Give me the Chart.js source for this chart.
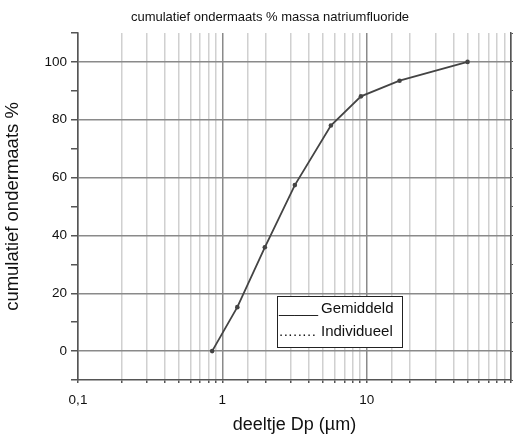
<!DOCTYPE html>
<html>
<head>
<meta charset="utf-8">
<script src="https://cdn.jsdelivr.net/npm/chart.js@4.4.1/dist/chart.umd.min.js"></script>
<style>
html,body{margin:0;padding:0;background:#fff;}
#wrap{width:515px;height:436px;}
</style>
</head>
<body>
<div id="wrap"><canvas id="c" width="515" height="436"></canvas></div>
<script>
// Data
const particleSizes = [0.85, 1.27, 1.97, 3.18, 5.65, 9.13, 16.9, 50];
const cumulativeUndersize = [0, 15.2, 35.9, 57.4, 78.0, 88.1, 93.5, 100];
const xTickLabels = {0.1: '0,1', 1: '1', 10: '10'};
const yTickLabels = [0, 20, 40, 60, 80, 100];
const chartTitle = 'cumulatief ondermaats % massa natriumfluoride';
const xAxisTitle = 'deeltje Dp (µm)';
const yAxisTitle = 'cumulatief ondermaats %';
const legendItems = [
  {mark: '_____', markSize: 14, spacing: '0px', label: 'Gemiddeld'},
  {mark: '........', markSize: 15, spacing: '0.5px', label: 'Individueel'}
];

const FONT = '"Liberation Sans", Arial, sans-serif';

const overlay = {
  id: 'overlay',
  afterDraw(chart) {
    const ctx = chart.ctx;
    ctx.save();
    // title
    ctx.fillStyle = '#111';
    ctx.font = '13px ' + FONT;
    ctx.textAlign = 'center';
    ctx.textBaseline = 'middle';
    ctx.fillText(chartTitle, 270, 17);
    // legend box
    const bx = 277, by = 296, bw = 125, bh = 51;
    ctx.fillStyle = '#fff';
    ctx.fillRect(bx, by, bw, bh);
    ctx.strokeStyle = '#222';
    ctx.lineWidth = 1;
    ctx.strokeRect(bx + 0.5, by + 0.5, bw, bh);
    ctx.fillStyle = '#111';
    ctx.textAlign = 'left';
    ctx.textBaseline = 'middle';
    legendItems.forEach((it, i) => {
      const y = by + 13 + i * 23;
      ctx.font = it.markSize + 'px ' + FONT;
      ctx.letterSpacing = it.spacing;
      ctx.fillText(it.mark, bx + 2, y);
      ctx.letterSpacing = '0px';
      ctx.font = '15px ' + FONT;
      ctx.fillText(it.label, bx + 44, y);
    });
    ctx.restore();
  }
};

new Chart(document.getElementById('c'), {
  type: 'line',
  data: {
    datasets: [{
      data: particleSizes.map((x, i) => ({x: x, y: cumulativeUndersize[i]})),
      borderColor: '#444',
      backgroundColor: '#444',
      borderWidth: 1.8,
      pointRadius: 2.3,
      pointBorderWidth: 0,
      tension: 0,
      fill: false
    }]
  },
  options: {
    responsive: false,
    devicePixelRatio: 1,
    animation: false,
    layout: {padding: {top: 33, right: 0, left: 0, bottom: 0}},
    plugins: {legend: {display: false}, title: {display: false}, tooltip: {enabled: false}},
    scales: {
      x: {
        type: 'logarithmic',
        min: 0.1,
        max: 100,
        afterFit(s) { s.height = 56; s.paddingLeft = 0; s.paddingRight = 0; },
        border: {color: '#555', width: 1.5},
        grid: {
          color: (c) => {
            const v = c.tick ? c.tick.value : 0;
            const l = Math.log10(v);
            if (Math.abs(l - Math.round(l)) < 1e-6) return '#8a8a8a';
            return '#d0d0d0';
          },
          lineWidth: 1.5,
          tickColor: '#555',
          tickLength: 3
        },
        ticks: {
          autoSkip: false,
          maxRotation: 0,
          padding: 9,
          color: '#111',
          font: {family: FONT, size: 13.5},
          callback: (v) => {
            for (const k in xTickLabels) { if (Math.abs(v - Number(k)) < 1e-9) return xTickLabels[k]; }
            return '';
          }
        },
        title: {display: true, text: xAxisTitle, color: '#111', font: {family: FONT, size: 18}, padding: {top: 0, bottom: 0}}
      },
      y: {
        min: -10,
        max: 110,
        afterFit(s) { s.width = 78; s.paddingTop = 0; s.paddingBottom = 0; },
        border: {color: '#555', width: 1.5},
        grid: {
          color: (c) => {
            const v = c.tick ? c.tick.value : 0;
            return yTickLabels.includes(v) ? '#8a8a8a' : 'rgba(0,0,0,0)';
          },
          lineWidth: 1.5,
          tickColor: '#555',
          tickLength: 7
        },
        ticks: {
          stepSize: 10,
          padding: 4,
          color: '#111',
          font: {family: FONT, size: 13.5},
          callback: (v) => yTickLabels.includes(v) ? String(v) : ''
        },
        title: {display: true, text: yAxisTitle, color: '#111', font: {family: FONT, size: 18.5}, padding: {top: 2, bottom: 0}}
      },
      y2: {
        position: 'right',
        min: -10,
        max: 110,
        afterFit(s) { s.width = 4; s.paddingTop = 0; s.paddingBottom = 0; },
        border: {color: '#555', width: 1.5},
        grid: {drawOnChartArea: false, tickColor: '#555', tickLength: 2},
        ticks: {stepSize: 10, display: false}
      }
    }
  },
  plugins: [overlay]
});
</script>
</body>
</html>
